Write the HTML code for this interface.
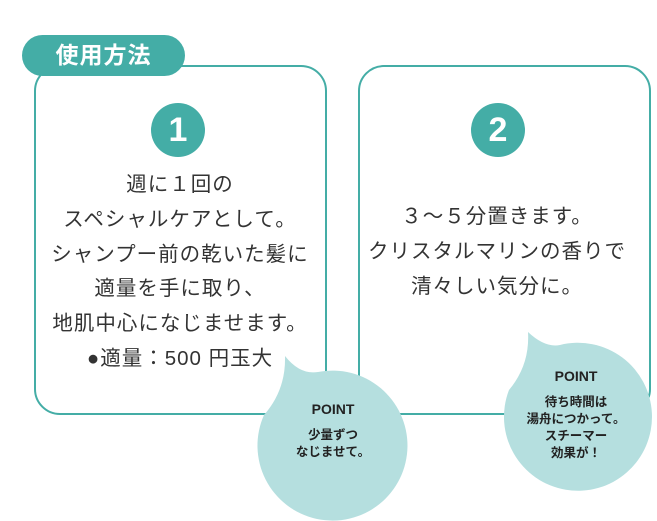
<!DOCTYPE html><html><head><meta charset="utf-8"><style>
body{margin:0;width:657px;height:521px;background:#fff;position:relative;overflow:hidden;font-family:"Liberation Sans","Noto Sans CJK JP",sans-serif;}
.box{position:absolute;border:2px solid #44ada6;border-radius:26px;background:#fff;box-sizing:border-box}
.num{position:absolute;width:54px;height:54px;border-radius:50%;background:#44ada6;color:#fff;font-size:34px;font-weight:bold;text-align:center;line-height:54px}
.t{position:absolute;text-align:center;color:#333;font-size:20.5px;line-height:34.8px;letter-spacing:1px;white-space:nowrap}
.p{position:absolute;text-align:center;color:#222;font-weight:bold;font-size:12.5px;line-height:17px}
</style></head><body>
<div class="box" style="left:34px;top:65px;width:293px;height:350px"></div>
<div class="box" style="left:358px;top:65px;width:293px;height:350px"></div>
<div style="position:absolute;left:22px;top:35px;width:163px;height:41px;border-radius:21px;background:#44ada6;color:#fff;font-size:23px;font-weight:bold;line-height:41px;text-align:center;letter-spacing:1px">使用方法</div>
<div class="num" style="left:151px;top:103px">1</div>
<div class="num" style="left:471px;top:103px">2</div>
<div class="t" style="left:30px;width:300px;top:168px">週に１回の<br>スペシャルケアとして。<br>シャンプー前の乾いた髪に<br>適量を手に取り、<br>地肌中心になじませます。<br>●適量：500 円玉大</div>
<div class="t" style="left:347px;width:300px;top:200px">３～５分置きます。<br>クリスタルマリンの香りで<br>清々しい気分に。</div>
<svg style="position:absolute;left:0;top:0" width="657" height="521">
<path d="M285,356 Q300,375 318,372 A75,75 0 1 1 264,415 Q286,390 285,356Z" fill="#b5dfdf"/>
<path d="M528,332 Q545,348 560,345 A74,74 0 1 1 509,390 Q530,365 528,332Z" fill="#b5dfdf"/>
</svg>
<div class="p" style="left:258px;width:150px;top:401px;font-size:14px">POINT</div>
<div class="p" style="left:258px;width:150px;top:427px">少量ずつ<br>なじませて。</div>
<div class="p" style="left:502px;width:148px;top:368px;font-size:14px">POINT</div>
<div class="p" style="left:502px;width:148px;top:394px">待ち時間は<br>湯舟につかって。<br>スチーマー<br>効果が！</div>
</body></html>
